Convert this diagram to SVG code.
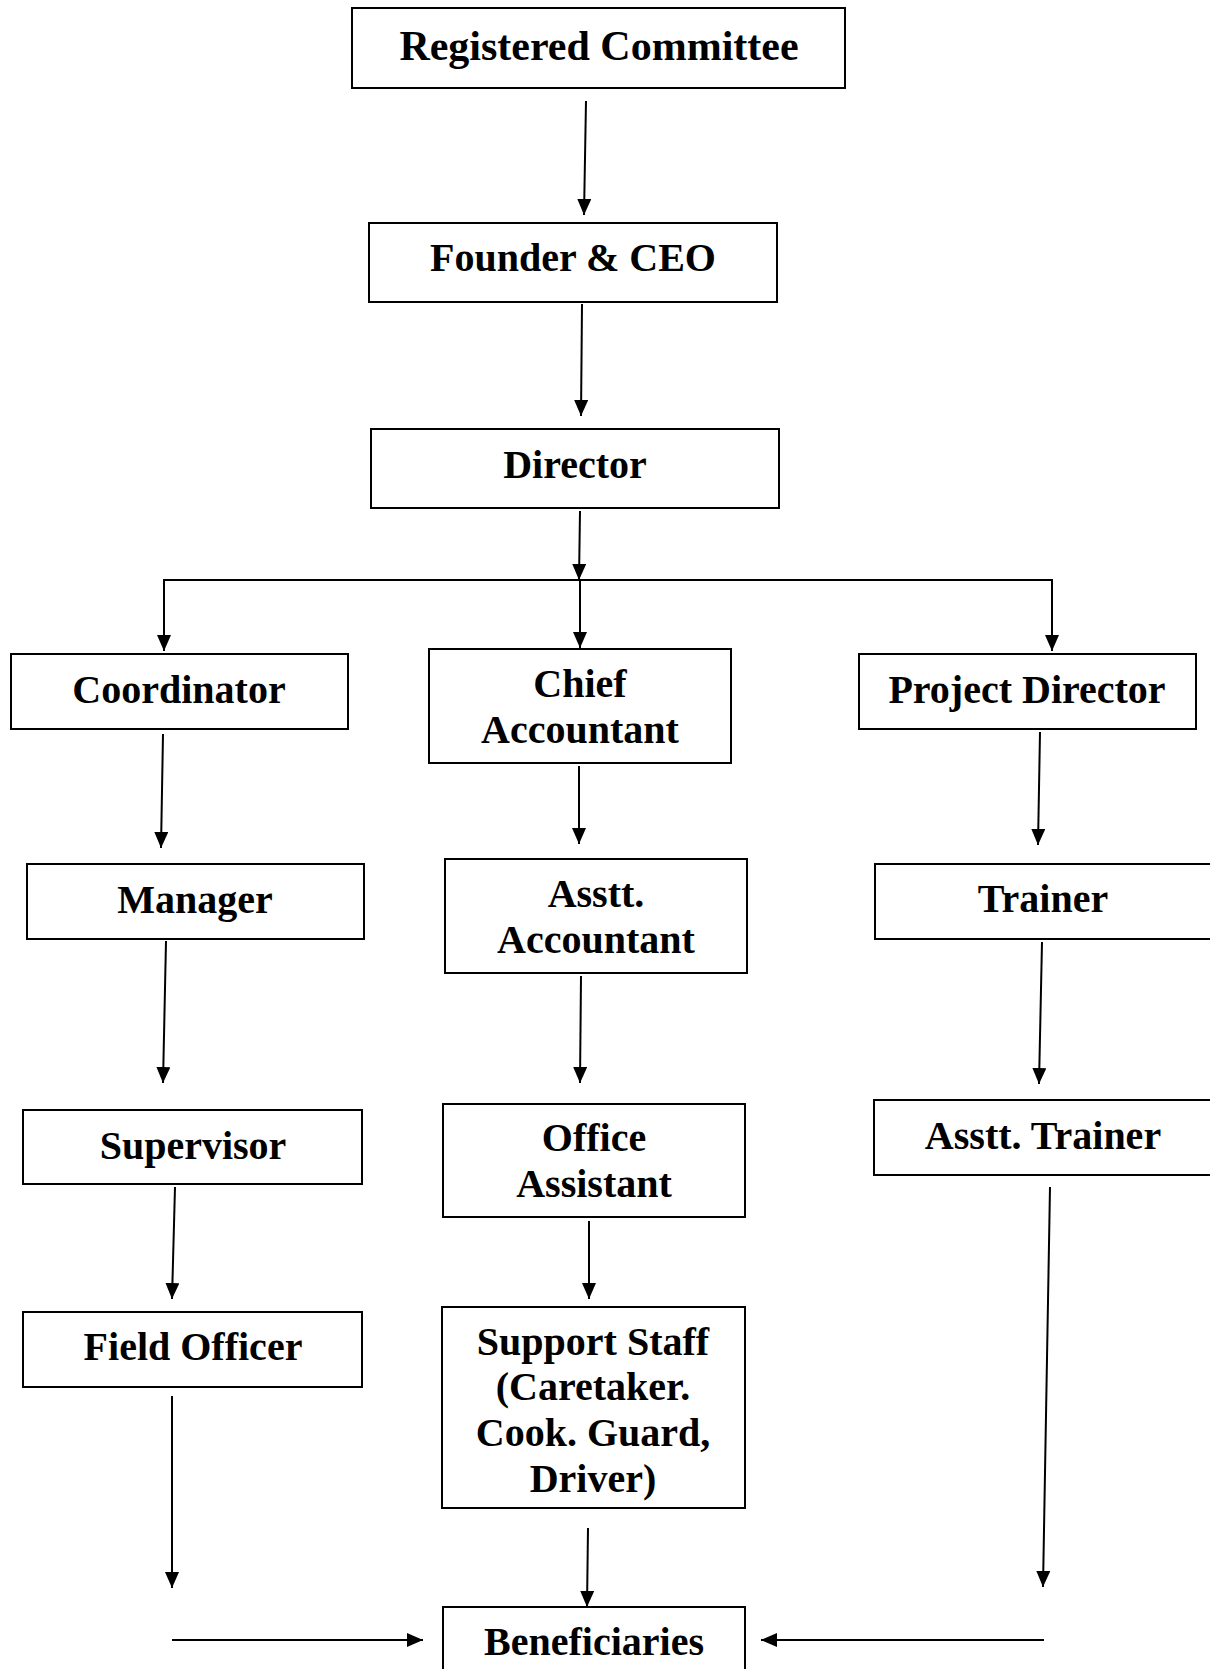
<svg xmlns="http://www.w3.org/2000/svg" width="1210" height="1669" viewBox="0 0 1210 1669">
<style>
.box{fill:#fff;stroke:#000;stroke-width:2}
.t{font-family:"Liberation Serif","Times New Roman",serif;font-weight:bold;font-size:40px;fill:#000;text-anchor:middle}
.c{fill:none;stroke:#000;stroke-width:2}
</style>
<defs>
<marker id="ah" markerUnits="userSpaceOnUse" markerWidth="16" markerHeight="14" refX="16" refY="7" orient="auto">
<path d="M0,0 L16,7 L0,14 z" fill="#000"/>
</marker>
</defs>
<rect width="1210" height="1669" fill="#fff"/>
<g id="connectors">
<line class="c" x1="586" y1="101" x2="584" y2="215" marker-end="url(#ah)"/>
<line class="c" x1="582" y1="304" x2="581" y2="416" marker-end="url(#ah)"/>
<line class="c" x1="580" y1="511" x2="579" y2="580" marker-end="url(#ah)"/>
<polyline class="c" points="164,651 164,580 1052,580 1052,651" marker-start="none"/>
<line class="c" x1="164" y1="600" x2="164" y2="651" marker-end="url(#ah)"/>
<line class="c" x1="1052" y1="600" x2="1052" y2="651" marker-end="url(#ah)"/>
<line class="c" x1="580" y1="580" x2="580" y2="648" marker-end="url(#ah)"/>
<line class="c" x1="163" y1="734" x2="161" y2="848" marker-end="url(#ah)"/>
<line class="c" x1="579" y1="766" x2="579" y2="844" marker-end="url(#ah)"/>
<line class="c" x1="1040" y1="732" x2="1038" y2="845" marker-end="url(#ah)"/>
<line class="c" x1="166" y1="941" x2="163" y2="1083" marker-end="url(#ah)"/>
<line class="c" x1="581" y1="976" x2="580" y2="1083" marker-end="url(#ah)"/>
<line class="c" x1="1042" y1="942" x2="1039" y2="1084" marker-end="url(#ah)"/>
<line class="c" x1="175" y1="1187" x2="172" y2="1299" marker-end="url(#ah)"/>
<line class="c" x1="589" y1="1221" x2="589" y2="1299" marker-end="url(#ah)"/>
<line class="c" x1="1050" y1="1187" x2="1043" y2="1587" marker-end="url(#ah)"/>
<line class="c" x1="172" y1="1396" x2="172" y2="1588" marker-end="url(#ah)"/>
<line class="c" x1="588" y1="1528" x2="587" y2="1607" marker-end="url(#ah)"/>
<line class="c" x1="172" y1="1640" x2="423" y2="1640" marker-end="url(#ah)"/>
<line class="c" x1="1044" y1="1640" x2="761" y2="1640" marker-end="url(#ah)"/>
</g>
<g id="registered-committee">
<rect class="box" x="352" y="8" width="493" height="80"/>
<text class="t" x="599" y="60" style="font-size:42px">Registered Committee</text>
</g>
<g id="founder-ceo">
<rect class="box" x="369" y="223" width="408" height="79"/>
<text class="t" x="573" y="271">Founder &amp; CEO</text>
</g>
<g id="director">
<rect class="box" x="371" y="429" width="408" height="79"/>
<text class="t" x="575" y="478">Director</text>
</g>
<g id="coordinator">
<rect class="box" x="11" y="654" width="337" height="75"/>
<text class="t" x="179" y="703">Coordinator</text>
</g>
<g id="chief-accountant">
<rect class="box" x="429" y="649" width="302" height="114"/>
<text class="t" x="580" y="697">Chief</text>
<text class="t" x="580" y="743">Accountant</text>
</g>
<g id="project-director">
<rect class="box" x="859" y="654" width="337" height="75"/>
<text class="t" x="1027" y="703">Project Director</text>
</g>
<g id="manager">
<rect class="box" x="27" y="864" width="337" height="75"/>
<text class="t" x="195" y="913">Manager</text>
</g>
<g id="asstt-accountant">
<rect class="box" x="445" y="859" width="302" height="114"/>
<text class="t" x="596" y="907">Asstt.</text>
<text class="t" x="596" y="953">Accountant</text>
</g>
<g id="trainer">
<rect class="box" x="875" y="864" width="340" height="75"/>
<text class="t" x="1043" y="912">Trainer</text>
</g>
<g id="supervisor">
<rect class="box" x="23" y="1110" width="339" height="74"/>
<text class="t" x="193" y="1159">Supervisor</text>
</g>
<g id="office-assistant">
<rect class="box" x="443" y="1104" width="302" height="113"/>
<text class="t" x="594" y="1151">Office</text>
<text class="t" x="594" y="1197">Assistant</text>
</g>
<g id="asstt-trainer">
<rect class="box" x="874" y="1100" width="340" height="75"/>
<text class="t" x="1043" y="1149">Asstt. Trainer</text>
</g>
<g id="field-officer">
<rect class="box" x="23" y="1312" width="339" height="75"/>
<text class="t" x="193" y="1360">Field Officer</text>
</g>
<g id="support-staff">
<rect class="box" x="442" y="1307" width="303" height="201"/>
<text class="t" x="593" y="1355">Support Staff</text>
<text class="t" x="593" y="1400">(Caretaker.</text>
<text class="t" x="593" y="1446">Cook. Guard,</text>
<text class="t" x="593" y="1492">Driver)</text>
</g>
<g id="beneficiaries">
<rect class="box" x="443" y="1607" width="302" height="80"/>
<text class="t" x="594" y="1655">Beneficiaries</text>
</g>
</svg>
